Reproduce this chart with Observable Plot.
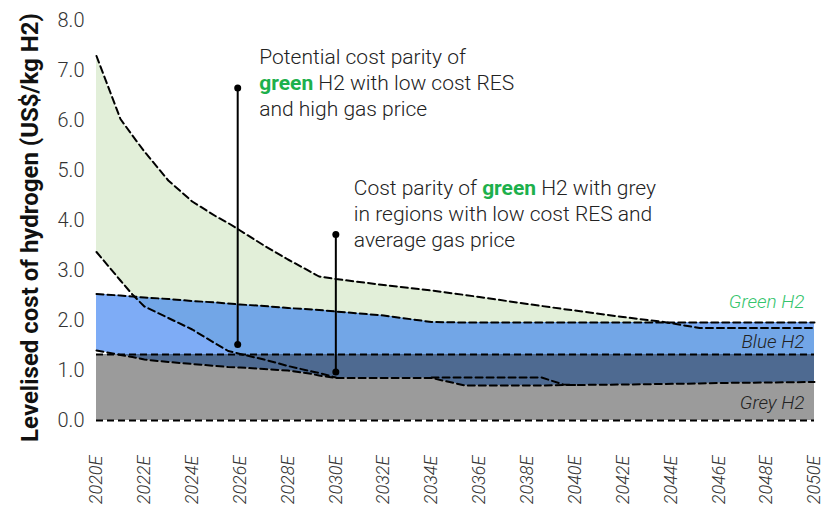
<!DOCTYPE html>
<html>
<head>
<meta charset="utf-8">
<script src="https://cdn.jsdelivr.net/npm/d3@7"></script>
<script src="https://cdn.jsdelivr.net/npm/@observablehq/plot@0.6"></script>
<style>
  html, body { margin: 0; padding: 0; background: #fff; }
  #chart svg { display: block; }
  g[aria-label="x-axis tick label"] text { font-style: italic; }
</style>
</head>
<body>
<div id="chart"></div>
<script>
// ---- Data ----
const years = [2020, 2021, 2021.5, 2022, 2023, 2024, 2025, 2025.5, 2026, 2027, 2028, 2029, 2029.3, 2030,
               2032, 2034, 2035.4, 2036, 2038, 2038.6, 2039.5, 2040, 2042, 2043.7, 2045.2, 2046, 2048, 2050];
const greenUpper = [7.29, 6.03, 5.70, 5.38, 4.80, 4.38, 4.08, 3.95, 3.80, 3.50, 3.22, 2.96, 2.88, 2.83,
                    2.71, 2.60, 2.51, 2.47, 2.33, 2.29, 2.23, 2.20, 2.07, 1.97, 1.85, 1.85, 1.85, 1.85];
const greenLower = [3.37, 2.80, 2.52, 2.28, 2.05, 1.82, 1.53, 1.39, 1.33, 1.22, 1.09, 0.98, 0.95, 0.86,
                    0.86, 0.86, 0.86, 0.86, 0.86, 0.86, 0.72, 0.71, 0.72, 0.73, 0.74, 0.75, 0.76, 0.77];
const blueUpper  = [2.53, 2.50, 2.48, 2.46, 2.43, 2.39, 2.36, 2.34, 2.32, 2.29, 2.25, 2.22, 2.21, 2.18,
                    2.10, 1.97, 1.96, 1.96, 1.96, 1.96, 1.96, 1.96, 1.96, 1.96, 1.96, 1.96, 1.96, 1.96];
const blueLower  = [1.40, 1.31, 1.27, 1.22, 1.17, 1.13, 1.09, 1.07, 1.06, 1.03, 1.00, 0.93, 0.90, 0.85,
                    0.85, 0.85, 0.70, 0.70, 0.70, 0.70, 0.71, 0.71, 0.72, 0.73, 0.74, 0.75, 0.76, 0.77];
const greyLevel = 1.32;

const parityYears = [2025.9, 2030];
const parityLow   = [1.52, 0.97];
const parityHigh  = [6.65, 3.72];

const noteYears  = [2026.8, 2030.75];
const noteValues = [6.78, 4.16];
const noteTexts  = [
  "Potential cost parity of\ngreen H2 with low cost RES\nand high gas price",
  "Cost parity of green H2 with grey\nin regions with low cost RES and\naverage gas price"
];

const seriesLabels = ["Green H2", "Blue H2", "Grey H2"];
const seriesLabelValues = [2.38, 1.58, 0.35];

const xTickYears = [2020, 2022, 2024, 2026, 2028, 2030, 2032, 2034, 2036, 2038, 2040, 2042, 2044, 2046, 2048, 2050];
const yTicks = [0, 1, 2, 3, 4, 5, 6, 7, 8];
const yTitle = "Levelised cost of hydrogen (US$/kg H2)";

// ---- Tables built from the arrays ----
const rows = years.map((year, i) => ({
  year, gU: greenUpper[i], gL: greenLower[i], bU: blueUpper[i], bL: blueLower[i], zero: 0, grey: greyLevel
}));
// green lower dashed line only where it is distinct from the blue lower line
const greenLowerLine = rows.map(d => ({year: d.year, v: (d.year <= 2030 || (d.year >= 2034 && d.year <= 2040)) ? d.gL : NaN}));
const parity = parityYears.map((x, i) => ({x, lo: parityLow[i], hi: parityHigh[i]}));
const notes = noteYears.map((x, i) => ({x, y: noteValues[i], text: noteTexts[i]}));
const labels = seriesLabels.map((t, i) => ({t, y: seriesLabelValues[i]}));
const labelColors = {"Green H2": "#35c46c", "Blue H2": "#222", "Grey H2": "#222"};

const dash = {stroke: "#000", strokeWidth: 2, strokeDasharray: "7,4"};

const chart = Plot.plot({
  width: 823,
  height: 515,
  marginLeft: 96,
  marginRight: 9,
  marginTop: 20,
  marginBottom: 95,
  x: {domain: [2020, 2050]},
  y: {domain: [0, 8]},
  style: {fontFamily: "Roboto, sans-serif", color: "#333", background: "#fff"},
  marks: [
    // Green H2 range
    Plot.areaY(rows, {x: "year", y1: "gL", y2: "gU", fill: "#e2efd9"}),
    // Blue H2 range (semi-transparent over green)
    Plot.areaY(rows, {x: "year", y1: "bL", y2: "bU", fill: "#2875f0", fillOpacity: 0.6}),
    // Grey H2 range
    Plot.areaY(rows, {x: "year", y1: "zero", y2: "grey", fill: "#9b9b9b"}),
    // overlap of blue and grey ranges
    Plot.areaY(rows, {x: "year", y1: d => Math.min(d.bL, d.grey), y2: "grey", fill: "#4e6a91"}),
    Plot.ruleY([0], dash),
    Plot.ruleY([greyLevel], dash),
    Plot.line(rows, {x: "year", y: "gU", ...dash}),
    Plot.line(rows, {x: "year", y: "bU", ...dash}),
    Plot.line(rows, {x: "year", y: "bL", ...dash}),
    Plot.line(greenLowerLine, {x: "year", y: "v", ...dash}),
    Plot.ruleX(parity, {x: "x", y1: "lo", y2: "hi", stroke: "#000", strokeWidth: 2}),
    Plot.dot(parity, {x: "x", y: "lo", r: 3.5, fill: "#000"}),
    Plot.dot(parity, {x: "x", y: "hi", r: 3.5, fill: "#000"}),
    Plot.text(notes, {x: "x", y: "y", text: "text", textAnchor: "start", lineAnchor: "middle",
      lineHeight: 1.23, fontSize: 21, fontWeight: 300, fill: "#222"}),
    Plot.text(labels, {x: 2050, y: "y", text: "t", textAnchor: "end", dx: -10, fontSize: 19,
      fontStyle: "italic", fontWeight: 300, fill: d => labelColors[d.t]}),
    Plot.axisY({ticks: yTicks, tickFormat: d3.format(".1f"), tickSize: 0, tickPadding: 12,
      fontSize: 20, fontWeight: 300, label: null}),
    Plot.axisX({ticks: xTickYears, tickFormat: d => d + "E", tickRotate: -90, tickSize: 0, tickPadding: 35,
      fontSize: 18, fontWeight: 300, fontStyle: "italic", label: null}),
    Plot.text([yTitle], {frameAnchor: "left", textAnchor: "middle", rotate: -90, dx: -66, dy: 7, fontSize: 24,
      fontWeight: "bold", fill: "#111"})
  ]
});

// bold green highlight inside the annotation lines
chart.querySelectorAll("tspan").forEach(t => {
  const s = t.textContent;
  const i = s.indexOf("green");
  if (i < 0) return;
  t.textContent = "";
  const ns = "http://www.w3.org/2000/svg";
  const add = (str, bold) => {
    const e = document.createElementNS(ns, "tspan");
    e.textContent = str;
    if (bold) { e.setAttribute("font-weight", "700"); e.setAttribute("fill", "#1db04c"); }
    t.appendChild(e);
  };
  if (i > 0) add(s.slice(0, i), false);
  add("green", true);
  add(s.slice(i + 5), false);
});

document.getElementById("chart").appendChild(chart);
</script>
</body>
</html>
